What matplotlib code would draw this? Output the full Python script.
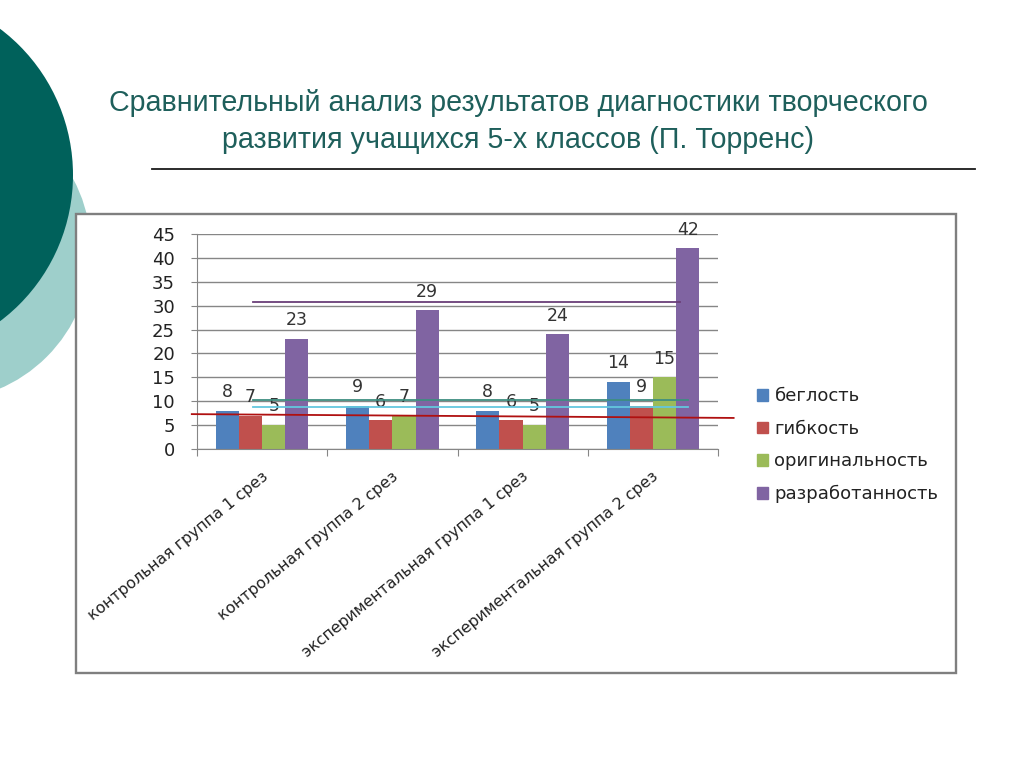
import numpy as np
import matplotlib
matplotlib.use('Agg')
import matplotlib.pyplot as plt
from matplotlib.patches import Circle, Rectangle, Patch
from matplotlib.transforms import offset_copy

# Data
groups = ['контрольная группа 1 срез', 'контрольная группа 2 срез',
          'экспериментальная группа 1 срез', 'экспериментальная группа 2 срез']
series = ['беглость', 'гибкость', 'оригинальность', 'разработанность']
beglost = [8, 9, 8, 14]
gibkost = [7, 6, 6, 9]
originalnost = [5, 7, 5, 15]
razrabotannost = [23, 29, 24, 42]
values = [beglost, gibkost, originalnost, razrabotannost]
colors = ['#4F81BD', '#C0504D', '#9BBB59', '#8064A2']

# extra lines drawn over the chart: (y start, y end, x start, x end, colour)
ref_lines = [
    (30.8, 30.8, -0.07, 3.21, '#6A3F78'),
    (10.25, 10.25, -0.07, 3.27, '#3E8E80'),
    (8.8, 8.8, -0.07, 3.27, '#63C7DE'),
    (7.3, 6.5, -0.54, 3.62, '#B01010'),
]

title_1 = 'Сравнительный анализ результатов диагностики творческого'
title_2 = 'развития учащихся 5-х классов (П. Торренс)'

W, H = 1024, 767
fig = plt.figure(figsize=(W / 100, H / 100), dpi=100)
fig.patch.set_facecolor('white')

###### Slide background (pixel coordinates)
bg = fig.add_axes([0, 0, 1, 1], zorder=0)
bg.set_xlim(0, W)
bg.set_ylim(H, 0)
bg.axis('off')
bg.add_patch(Circle((-60, 250), 151, color='#9ECFCB', lw=0))
bg.add_patch(Circle((-110, 175), 183, color='#00615B', lw=0))
bg.plot([152, 975], [169, 169], color='#1A1A1A', lw=1.3)
bg.add_patch(Rectangle((76, 214), 880, 459, fill=True, facecolor='white',
                       edgecolor='#7F7F7F', lw=1.7))
bg.text(518, 103, title_1, ha='center', va='center', fontsize=20.6,
        family='Liberation Sans', color='#1E5F5B')
bg.text(518, 140, title_2, ha='center', va='center', fontsize=20.6,
        family='Liberation Sans', color='#1E5F5B')

###### Chart
ax = fig.add_axes([197 / W, 1 - 449 / H, 521 / W, 215 / H], zorder=2)
ax.patch.set_alpha(0)
x = np.arange(len(groups))
w = 0.178
for i, (name, vals, c) in enumerate(zip(series, values, colors)):
    pos = x + (i - 1.5) * w
    ax.bar(pos, vals, width=w, color=c, label=name, zorder=2)
    for p, v in zip(pos, vals):
        ax.annotate(str(v), (p, v), xytext=(0, 7), textcoords='offset points',
                    ha='center', va='bottom', fontsize=12.5, color='#333333')

for y0, y1, x0, x1, c in ref_lines:
    ax.plot([x0, x1], [y0, y1], color=c, lw=1.3, zorder=3, clip_on=False)

ax.set_xlim(-0.5, 3.5)
ax.set_ylim(0, 45)
ax.set_yticks(range(0, 46, 5))
ax.yaxis.grid(True, color='#868686', lw=1)
ax.set_axisbelow(True)
for s in ['top', 'right']:
    ax.spines[s].set_visible(False)
ax.spines['left'].set_color('#868686')
ax.spines['bottom'].set_color('#868686')
ax.tick_params(axis='y', colors='#868686', labelcolor='#222222',
               labelsize=13, length=4.3, pad=11.5)
ax.set_xticks(np.arange(-0.5, 4, 1))
ax.set_xticklabels([])
ax.tick_params(axis='x', which='major', colors='#868686', length=5)

# category labels, slanted
lab_tr = offset_copy(ax.get_xaxis_transform(), fig=fig, x=-1, y=-20, units='dots')
for xi, g in zip(x, groups):
    ax.text(xi, 0, g, transform=lab_tr, rotation=39, rotation_mode='anchor',
            ha='right', va='top', fontsize=11.3, color='#222222')

handles = [Patch(color=c) for c in colors]
fig.legend(handles, series, loc='upper left',
           bbox_to_anchor=(741 / W, 1 - 371 / H), frameon=False,
           fontsize=13, handlelength=0.6, handleheight=0.6,
           handletextpad=0.35, labelspacing=0.81, labelcolor='#222222')

fig.savefig('out.png', dpi=100)
